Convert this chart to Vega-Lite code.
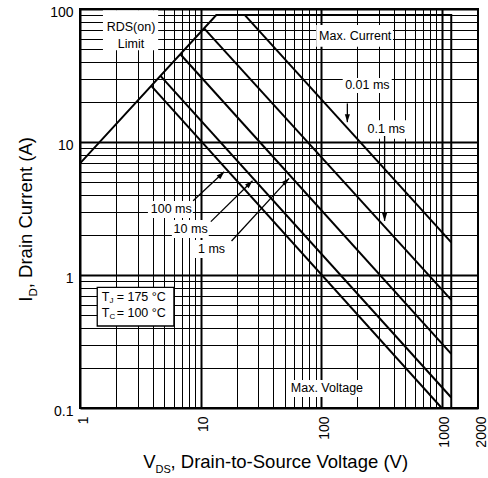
{
  "$schema": "https://vega.github.io/schema/vega-lite/v6.json",
  "width": 398,
  "height": 399,
  "autosize": {"type": "none"},
  "padding": {"left": 80, "top": 9, "right": 10, "bottom": 70},
  "background": "white",
  "config": {
    "view": {"stroke": "black", "strokeWidth": 2},
    "text": {"font": "Liberation Sans", "color": "black"}
  },
  "datasets": {
    "curves": [
      {"s": "limit", "i": 0, "x": 1, "y": 6.9},
      {"s": "limit", "i": 1, "x": 13.5, "y": 90},
      {"s": "limit", "i": 2, "x": 1200, "y": 90},
      {"s": "limit", "i": 3, "x": 1200, "y": 0.1},
      {"s": "0.01 ms", "i": 0, "x": 23.3, "y": 90},
      {"s": "0.01 ms", "i": 1, "x": 1200, "y": 1.76},
      {"s": "0.1 ms", "i": 0, "x": 10.7, "y": 71.5},
      {"s": "0.1 ms", "i": 1, "x": 1200, "y": 0.65},
      {"s": "1 ms", "i": 0, "x": 6.8, "y": 45.7},
      {"s": "1 ms", "i": 1, "x": 1200, "y": 0.255},
      {"s": "10 ms", "i": 0, "x": 4.65, "y": 31.4},
      {"s": "10 ms", "i": 1, "x": 1200, "y": 0.12},
      {"s": "100 ms", "i": 0, "x": 3.9, "y": 26.4},
      {"s": "100 ms", "i": 1, "x": 1000, "y": 0.1}
    ],
    "boxes": [
      {"x": 1.55, "x2": 4.45, "y": 49, "y2": 98},
      {"x": 91, "x2": 394, "y": 52, "y2": 75.8},
      {"x": 151, "x2": 385, "y": 23.4, "y2": 30.3},
      {"x": 234, "x2": 512, "y": 10.6, "y2": 14.6},
      {"x": 3.66, "x2": 8.63, "y": 2.68, "y2": 3.6},
      {"x": 5.78, "x2": 11.7, "y": 1.9, "y2": 2.59},
      {"x": 8.97, "x2": 16.8, "y": 1.34, "y2": 1.83},
      {"x": 55, "x2": 225, "y": 0.121, "y2": 0.1625}
    ],
    "frame": [
      {"x": 1.39, "x2": 6.01, "y": 0.4136, "y2": 0.808}
    ],
    "arrows": [
      {"x": 165, "y": 19.5, "x2": 165, "y2": 14.1},
      {"x": 336, "y": 11.1, "x2": 336, "y2": 2.55},
      {"x": 8.68, "y": 3.62, "x2": 15.7, "y2": 5.98},
      {"x": 12.17, "y": 2.52, "x2": 26.97, "y2": 5.12},
      {"x": 18.07, "y": 1.8, "x2": 54.2, "y2": 5.33}
    ],
    "labels": [
      {"x": 2.65, "y": 73.2, "t": "RDS(on)"},
      {"x": 2.65, "y": 54.6, "t": "Limit"},
      {"x": 191.7, "y": 63, "t": "Max. Current"},
      {"x": 241.9, "y": 26.8, "t": "0.01 ms"},
      {"x": 347.5, "y": 12.46, "t": "0.1 ms"},
      {"x": 5.71, "y": 3.12, "t": "100 ms"},
      {"x": 8.27, "y": 2.22, "t": "10 ms"},
      {"x": 12.34, "y": 1.56, "t": "1 ms"},
      {"x": 111.7, "y": 0.1406, "t": "Max. Voltage"}
    ],
    "temps": [
      {"x": 1.513, "y": 0.68, "a": "T", "b": "J", "c": "= 175 °C"},
      {"x": 1.513, "y": 0.515, "a": "T", "b": "C", "c": "= 100 °C"}
    ]
  },
  "layer": [
    {
      "data": {"name": "curves"},
      "mark": {"type": "line", "color": "black", "strokeWidth": 2, "clip": true},
      "encoding": {
        "x": {
          "field": "x", "type": "quantitative",
          "scale": {"type": "log", "domain": [1, 2000], "nice": false},
          "axis": {
            "values": [1, 2, 3, 4, 5, 6, 7, 8, 9, 10, 20, 30, 40, 50, 60, 70, 80, 90, 100, 200, 300, 400, 500, 600, 700, 800, 900, 1000, 2000],
            "format": "d",
            "labelExpr": "indexof([1, 10, 100, 1000, 2000], datum.value) >= 0 ? datum.label : ''",
            "labelAngle": -90, "labelAlign": "right", "labelBaseline": "middle",
            "labelPadding": 8, "labelOffset": 3, "labelFontSize": 14, "labelFont": "Liberation Sans", "labelColor": "black",
            "labelOverlap": false, "labelFlush": false, "labelBound": false,
            "ticks": false, "domain": false, "title": null,
            "grid": true, "gridColor": "black", "gridOpacity": 1,
            "gridWidth": {"condition": {"test": "indexof([1, 10, 100, 1000], datum.value) >= 0", "value": 2}, "value": 1}
          }
        },
        "y": {
          "field": "y", "type": "quantitative",
          "scale": {"type": "log", "domain": [0.1, 100], "nice": false},
          "axis": {
            "values": [0.1, 0.2, 0.3, 0.4, 0.5, 0.6, 0.7, 0.8, 0.9, 1, 2, 3, 4, 5, 6, 7, 8, 9, 10, 20, 30, 40, 50, 60, 70, 80, 90, 100],
            "format": "~g",
            "labelExpr": "indexof([0.1, 1, 10, 100], datum.value) >= 0 ? datum.label : ''",
            "labelPadding": 7, "labelOffset": 3, "labelFontSize": 14, "labelFont": "Liberation Sans", "labelColor": "black",
            "labelOverlap": false, "labelFlush": false, "labelBound": false,
            "ticks": false, "domain": false, "title": null,
            "grid": true, "gridColor": "black", "gridOpacity": 1,
            "gridWidth": {"condition": {"test": "indexof([0.1, 1, 10, 100], datum.value) >= 0", "value": 2}, "value": 1}
          }
        },
        "detail": {"field": "s"},
        "order": {"field": "i", "type": "quantitative"}
      }
    },
    {
      "data": {"name": "boxes"},
      "mark": {"type": "rect", "fill": "white", "strokeWidth": 0},
      "encoding": {
        "x": {"field": "x", "type": "quantitative"},
        "x2": {"field": "x2"},
        "y": {"field": "y", "type": "quantitative"},
        "y2": {"field": "y2"}
      }
    },
    {
      "data": {"name": "frame"},
      "mark": {"type": "rect", "fill": "white", "stroke": "black", "strokeWidth": 1.3},
      "encoding": {
        "x": {"field": "x", "type": "quantitative"},
        "x2": {"field": "x2"},
        "y": {"field": "y", "type": "quantitative"},
        "y2": {"field": "y2"}
      }
    },
    {
      "data": {"name": "arrows"},
      "mark": {"type": "rule", "color": "black", "strokeWidth": 1.3},
      "encoding": {
        "x": {"field": "x", "type": "quantitative"},
        "y": {"field": "y", "type": "quantitative"},
        "x2": {"field": "x2"},
        "y2": {"field": "y2"}
      }
    },
    {
      "data": {"name": "arrows"},
      "transform": [{"filter": "datum.x == datum.x2"}],
      "mark": {"type": "point", "shape": "M0,0L0.7,2.2L-0.7,2.2Z", "size": 53, "filled": true, "color": "black", "opacity": 1, "strokeWidth": 0, "angle": 180},
      "encoding": {
        "x": {"field": "x2", "type": "quantitative"},
        "y": {"field": "y2", "type": "quantitative"}
      }
    },
    {
      "data": {"name": "arrows"},
      "transform": [{"filter": "datum.x != datum.x2"}],
      "mark": {"type": "point", "shape": "M0,0L0.7,2.2L-0.7,2.2Z", "size": 53, "filled": true, "color": "black", "opacity": 1, "strokeWidth": 0, "angle": 45},
      "encoding": {
        "x": {"field": "x2", "type": "quantitative"},
        "y": {"field": "y2", "type": "quantitative"}
      }
    },
    {
      "data": {"name": "labels"},
      "mark": {"type": "text", "fontSize": 12.5, "align": "center", "baseline": "middle"},
      "encoding": {
        "x": {"field": "x", "type": "quantitative"},
        "y": {"field": "y", "type": "quantitative"},
        "text": {"field": "t"}
      }
    },
    {
      "data": {"name": "temps"},
      "mark": {"type": "text", "fontSize": 12.5, "align": "left", "baseline": "middle"},
      "encoding": {
        "x": {"field": "x", "type": "quantitative"},
        "y": {"field": "y", "type": "quantitative"},
        "text": {"field": "a"}
      }
    },
    {
      "data": {"name": "temps"},
      "mark": {"type": "text", "fontSize": 8, "align": "left", "baseline": "middle", "dx": 7.7, "dy": 3.5},
      "encoding": {
        "x": {"field": "x", "type": "quantitative"},
        "y": {"field": "y", "type": "quantitative"},
        "text": {"field": "b"}
      }
    },
    {
      "data": {"name": "temps"},
      "mark": {"type": "text", "fontSize": 12.5, "align": "left", "baseline": "middle", "dx": 15},
      "encoding": {
        "x": {"field": "x", "type": "quantitative"},
        "y": {"field": "y", "type": "quantitative"},
        "text": {"field": "c"}
      }
    },
    {
      "data": {"values": [{}]},
      "mark": {"type": "text", "text": "V", "fontSize": 18.5, "align": "right", "baseline": "alphabetic", "dy": 60.3},
      "encoding": {
        "x": {"datum": 4.23, "type": "quantitative"},
        "y": {"datum": 0.1, "type": "quantitative"}
      }
    },
    {
      "data": {"values": [{}]},
      "mark": {"type": "text", "text": "DS", "fontSize": 11, "align": "left", "baseline": "alphabetic", "dy": 65},
      "encoding": {
        "x": {"datum": 4.23, "type": "quantitative"},
        "y": {"datum": 0.1, "type": "quantitative"}
      }
    },
    {
      "data": {"values": [{}]},
      "mark": {"type": "text", "text": ", Drain-to-Source Voltage (V)", "fontSize": 18.5, "align": "left", "baseline": "alphabetic", "dx": 15, "dy": 60.3},
      "encoding": {
        "x": {"datum": 4.23, "type": "quantitative"},
        "y": {"datum": 0.1, "type": "quantitative"}
      }
    },
    {
      "data": {"values": [{}]},
      "mark": {"type": "text", "text": "I", "fontSize": 18.5, "align": "left", "baseline": "alphabetic", "angle": 270, "dy": -48},
      "encoding": {
        "x": {"datum": 1, "type": "quantitative"},
        "y": {"datum": 0.63, "type": "quantitative"}
      }
    },
    {
      "data": {"values": [{}]},
      "mark": {"type": "text", "text": "D", "fontSize": 11.5, "align": "left", "baseline": "alphabetic", "angle": 270, "dx": 5.3, "dy": -43.5},
      "encoding": {
        "x": {"datum": 1, "type": "quantitative"},
        "y": {"datum": 0.63, "type": "quantitative"}
      }
    },
    {
      "data": {"values": [{}]},
      "mark": {"type": "text", "text": ", Drain Current (A)", "fontSize": 18.5, "align": "left", "baseline": "alphabetic", "angle": 270, "dx": 13.5, "dy": -48},
      "encoding": {
        "x": {"datum": 1, "type": "quantitative"},
        "y": {"datum": 0.63, "type": "quantitative"}
      }
    }
  ]
}
